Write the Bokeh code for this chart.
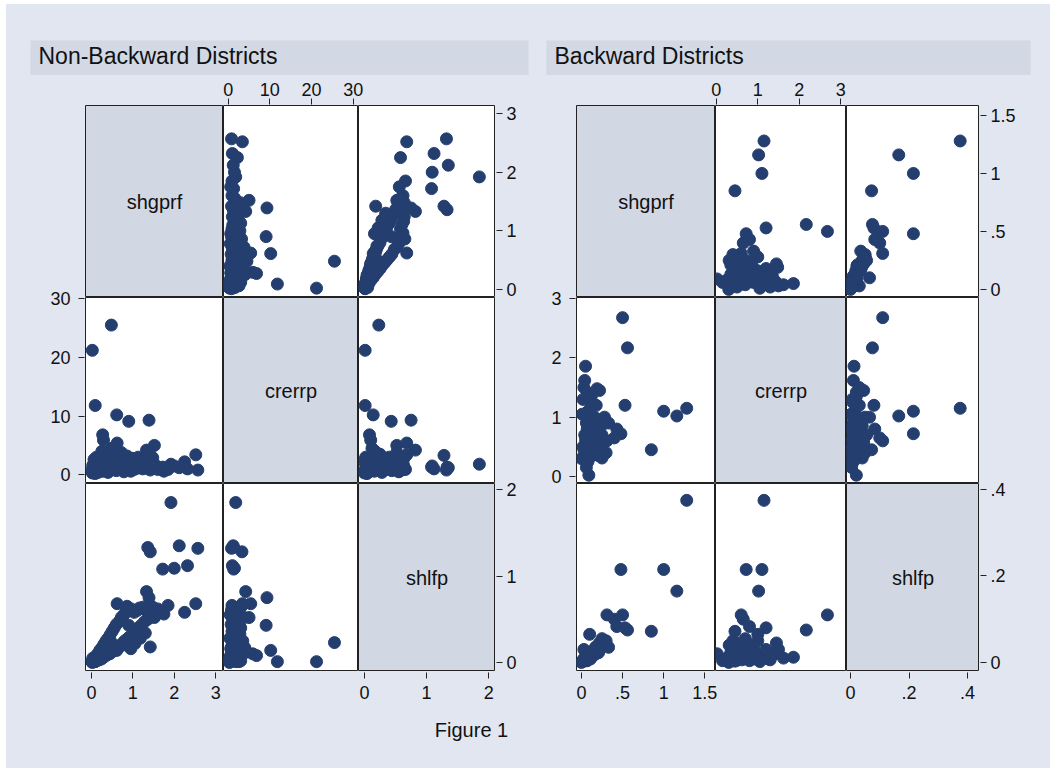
from bokeh.plotting import figure
from bokeh.layouts import row, column
from bokeh.models import (Range1d, FixedTicker, LinearAxis, Label, ColumnDataSource,
                          CustomJSTickFormatter, Spacer)
from bokeh.embed import file_html
from bokeh.resources import INLINE

# ---------------- data ----------------
variables = ["shgprf", "crerrp", "shlfp"]

# Non-Backward Districts
shgprf_nb = [0.48, 0.02, 0.09, 0.61, 0.90, 1.39, 1.52, 2.52, 2.57, 1.92, 2.25, 2.32, 2.12, 2.00,
             1.85, 1.72, 1.36, 1.42, 0.62, 0.86, 0.29, 0.27, 1.42, 1.33, 1.75,
             0.02, 0.05, 0.08, 0.10, 0.12, 0.15, 0.18, 0.20, 0.22, 0.25, 0.28, 0.30, 0.33, 0.35,
             0.38, 0.40, 0.42, 0.45, 0.48, 0.50, 0.52, 0.55, 0.58, 0.60, 0.65, 0.68, 0.70, 0.72,
             0.75, 0.78, 0.80, 0.83, 0.88, 0.90, 0.93, 0.96, 1.00, 1.03, 1.06, 1.10, 1.13, 1.16,
             1.20, 1.24, 1.28, 1.32, 1.36, 1.40, 1.45, 1.48, 1.55, 1.60,
             0.01, 0.03, 0.06, 0.09, 0.11, 0.14, 0.16, 0.19, 0.24, 0.27, 0.32, 0.36, 0.44, 0.54,
             0.64, 0.74, 1.05, 1.18, 0.95, 1.30]
crerrp_nb = [25.5, 21.2, 11.8, 10.2, 9.1, 9.3, 5.0, 3.4, 0.8, 1.8, 2.2, 1.0, 1.2, 1.5,
             0.9, 1.3, 1.3, 3.3, 5.4, 3.2, 5.9, 6.8, 0.8, 4.2, 0.6,
             0.3, 1.0, 2.0, 0.5, 3.0, 1.5, 0.8, 2.5, 1.2, 4.0, 0.6, 2.0, 1.0, 3.5,
             1.8, 0.4, 2.8, 1.3, 4.5, 0.9, 2.2, 1.6, 3.0, 0.7, 1.4, 2.6, 1.0, 3.8,
             1.8, 0.5, 2.4, 1.2, 1.7, 0.8, 2.1, 1.3, 2.8, 0.9, 1.9, 1.1, 3.0, 1.5,
             2.3, 1.0, 1.7, 2.6, 1.2, 2.0, 1.4, 2.9, 1.6, 0.9,
             0.8, 1.6, 2.6, 0.2, 1.2, 2.2, 0.4, 1.7, 0.9, 2.9, 1.4, 0.7, 2.0, 1.1,
             2.0, 1.3, 1.4, 2.2, 0.6, 1.8]
shlfp_nb = [0.23, 0.01, 0.01, 0.14, 0.43, 0.75, 0.52, 0.68, 1.32, 1.85, 0.58, 1.12, 1.35, 1.09,
            0.66, 1.08, 1.33, 1.28, 0.68, 0.65, 0.10, 0.08, 0.18, 0.82, 0.56,
            0.00, 0.04, 0.01, 0.07, 0.02, 0.10, 0.03, 0.14, 0.05, 0.17, 0.06, 0.21, 0.08, 0.25,
            0.09, 0.28, 0.10, 0.32, 0.12, 0.36, 0.13, 0.40, 0.15, 0.44, 0.17, 0.48, 0.20, 0.52,
            0.22, 0.55, 0.25, 0.58, 0.28, 0.60, 0.30, 0.62, 0.33, 0.58, 0.36, 0.60, 0.40, 0.63,
            0.43, 0.64, 0.47, 0.60, 0.50, 0.62, 0.54, 0.64, 0.58, 0.62,
            0.01, 0.05, 0.01, 0.04, 0.02, 0.05, 0.03, 0.10, 0.04, 0.09, 0.07, 0.10, 0.10, 0.14,
            0.18, 0.20, 0.22, 0.28, 0.16, 0.34]

# Backward Districts
shgprf_b = [1.28, 1.16, 1.00, 0.85, 0.50, 0.56, 0.48, 0.53, 0.05, 0.04, 0.07, 0.22, 0.40, 0.31,
            0.30, 0.19, 0.09, 0.03, 0.25, 0.33, 0.43, 0.10, 0.21,
            0.00, 0.02, 0.04, 0.06, 0.08, 0.10, 0.12, 0.14, 0.16, 0.18, 0.20, 0.03, 0.05, 0.07,
            0.09, 0.11, 0.13, 0.15, 0.17, 0.01, 0.24, 0.26, 0.28, 0.02, 0.08, 0.12, 0.25, 0.19,
            0.22, 0.06]
crerrp_b = [1.15, 1.02, 1.10, 0.45, 2.68, 2.17, 0.72, 1.20, 1.86, 1.62, 1.42, 1.45, 0.65, 0.60,
            0.40, 1.48, 0.02, 1.50, 0.31, 0.90, 0.80, 1.00, 0.35,
            0.30, 0.50, 0.70, 0.90, 1.10, 0.40, 0.60, 0.80, 1.00, 1.20, 0.50, 0.45, 0.62, 0.80,
            0.95, 1.25, 0.35, 0.55, 0.72, 1.05, 0.85, 0.58, 1.00, 1.30, 0.25, 1.35, 0.70, 0.88,
            0.48, 0.15]
shlfp_b = [0.375, 0.165, 0.215, 0.072, 0.110, 0.075, 0.215, 0.080, 0.012, 0.010, 0.020, 0.045,
           0.100, 0.110, 0.050, 0.030, 0.020, 0.030, 0.040, 0.035, 0.083, 0.065, 0.023,
           0.000, 0.005, 0.010, 0.008, 0.015, 0.020, 0.012, 0.025, 0.018, 0.030, 0.022, 0.003,
           0.006, 0.004, 0.012, 0.008, 0.016, 0.028, 0.035, 0.002, 0.040, 0.045, 0.050, 0.006,
           0.010, 0.020, 0.055, 0.038, 0.030, 0.004]

# axis ticks per variable
ticks_nb = {"shgprf": [0, 1, 2, 3], "crerrp": [0, 10, 20, 30], "shlfp": [0, 1, 2]}
ticks_b = {"shgprf": [0, 0.5, 1, 1.5], "crerrp": [0, 1, 2, 3], "shlfp": [0, 0.2, 0.4]}

# axis extents of each cell
xr_nb = {"shgprf": (-0.145, 3.19), "crerrp": (-1.13, 31.27), "shlfp": (-0.097, 2.11)}
yr_nb = {"shgprf": (-0.14, 3.14), "crerrp": (-1.49, 30.2), "shlfp": (-0.104, 2.07)}
xr_b = {"shgprf": (-0.06, 1.63), "crerrp": (-0.02, 3.14), "shlfp": (-0.0137, 0.441)}
yr_b = {"shgprf": (-0.07, 1.586), "crerrp": (-0.12, 3.02), "shlfp": (-0.021, 0.414)}

# ---------------- style ----------------
BG = "#e1e6f0"
BAR = "#d2d8e4"
DIAG = "#d1d8e4"
NAVY = "#243f6f"
FONT = "Liberation Sans"
TXT = "#111111"
LINE = "#222222"

fmt_code = "var s = String(tick); if (s.indexOf('0.') === 0) { s = s.substring(1); } return s;"

ROW_H = [192, 186, 188]
TOP_B, BOT_B = 30, 36


def ext(rng, a, b, total):
    """Extend a cell range so that it maps onto pixels a..b of a frame 'total' px long."""
    lo, hi = rng
    s = (hi - lo) / (b - a)
    return Range1d(lo - a * s, hi + (total - b) * s)


def blank(width, height, x_range, y_range, **borders):
    kw = dict(min_border=0)
    kw.update(borders)
    p = figure(width=width, height=height, x_range=x_range, y_range=y_range,
               x_axis_location=None, y_axis_location=None,
               toolbar_location=None, output_backend="svg", title=None,
               background_fill_color=BG, border_fill_color=BG, outline_line_color=None, **kw)
    p.xgrid.visible = False
    p.ygrid.visible = False
    return p


def add_axis(p, loc, ticks):
    standoff = {"above": 3, "below": 7, "left": 8, "right": 4}[loc]
    ax = LinearAxis(ticker=FixedTicker(ticks=ticks),
                    formatter=CustomJSTickFormatter(code=fmt_code),
                    major_tick_in=0, major_tick_out=6,
                    minor_tick_line_color=None,
                    axis_line_color=None, major_tick_line_color=LINE,
                    major_label_text_font=FONT, major_label_text_font_size="18px",
                    major_label_text_color=TXT, major_label_standoff=standoff)
    p.add_layout(ax, loc)


def title_bar(text, width, sp_left, sp_right):
    p = blank(width, 35 + 36, Range1d(0, 1), Range1d(0, 1),
              min_border_left=sp_left, min_border_right=sp_right, min_border_top=36)
    p.background_fill_color = BAR
    p.add_layout(Label(x=8, y=19.5, x_units="screen", y_units="screen", text=text,
                       text_align="left", text_baseline="middle",
                       text_font=FONT, text_font_size="23px", text_color=TXT))
    return p


def make_panel(title, src, xr, yr, ticks, col_w, L, R, sp_left, sp_right):
    W = sum(col_w)
    H = sum(ROW_H)
    cx = [0, col_w[0], col_w[0] + col_w[1], W]
    ry = [0, ROW_H[0], ROW_H[0] + ROW_H[1], H]
    v0, v1, v2 = variables
    panel_w = L + W + R

    tb = title_bar(title, panel_w, sp_left, sp_right)

    # top axis strip (column 2 variable)
    top = blank(panel_w, TOP_B, ext(xr[v1], cx[1], cx[2], W), Range1d(0, 1),
                min_border_left=L, min_border_right=R, min_border_top=TOP_B - 1)
    add_axis(top, "above", ticks[v1])

    # left axis strip (row 2 variable)
    left = blank(L, H, Range1d(0, 1), ext(yr[v1], H - ry[2], H - ry[1], H),
                 min_border_left=L - 1)
    add_axis(left, "left", ticks[v1])

    # right axis strips (row 1 and row 3 variables); the lower one reaches the bottom margin
    split_y = ry[1] + ROW_H[1] // 2
    hA = split_y
    hB = H - split_y + BOT_B
    rA = blank(R, hA, Range1d(0, 1), ext(yr[v0], hA - ry[1], hA, hA), min_border_right=R - 1)
    add_axis(rA, "right", ticks[v0])
    rB = blank(R, hB, Range1d(0, 1), ext(yr[v2], BOT_B, BOT_B + ROW_H[2], hB),
               min_border_right=R - 1)
    add_axis(rB, "right", ticks[v2])

    # bottom axis strips (column 1 and column 3 variables)
    split_x = cx[1] + col_w[1] // 2
    wA, wB = split_x, W - split_x
    bA = blank(L + wA, BOT_B, ext(xr[v0], 0, cx[1], wA), Range1d(0, 1),
               min_border_left=L, min_border_bottom=BOT_B - 1)
    add_axis(bA, "below", ticks[v0])
    bB = blank(wB, BOT_B, ext(xr[v2], cx[2] - split_x, wB, wB), Range1d(0, 1),
               min_border_bottom=BOT_B - 1)
    add_axis(bB, "below", ticks[v2])

    # the 3x3 cells
    rows = []
    for i, rv in enumerate(variables):
        figs = []
        for j, cv in enumerate(variables):
            p = figure(width=col_w[j], height=ROW_H[i],
                       x_range=Range1d(*xr[cv]), y_range=Range1d(*yr[rv]),
                       x_axis_location=None, y_axis_location=None,
                       toolbar_location=None, output_backend="svg", title=None,
                       min_border=0,
                       background_fill_color=DIAG if i == j else "white",
                       border_fill_color=BG, outline_line_color=LINE,
                       outline_line_width=1)
            p.xgrid.visible = False
            p.ygrid.visible = False
            if i == j:
                lo_x, hi_x = xr[cv]
                lo_y, hi_y = yr[rv]
                p.add_layout(Label(x=(lo_x + hi_x) / 2, y=(lo_y + hi_y) / 2, text=rv,
                                   text_align="center", text_baseline="middle",
                                   text_font=FONT, text_font_size="20px", text_color=TXT))
            else:
                p.scatter(x=cv, y=rv, source=src, marker="circle", size=12,
                          fill_color=NAVY, line_color=NAVY, line_width=1)
            figs.append(p)
        rows.append(row(*figs))
    cells = column(*rows)

    body = row(column(row(left, cells), row(bA, bB)), column(rA, rB))
    return column(row(tb), row(top), body)


src_nb = ColumnDataSource(dict(shgprf=shgprf_nb, crerrp=crerrp_nb, shlfp=shlfp_nb))
src_b = ColumnDataSource(dict(shgprf=shgprf_b, crerrp=crerrp_b, shlfp=shlfp_b))

pL = make_panel("Non-Backward Districts", src_nb, xr_nb, yr_nb, ticks_nb,
                [138, 135, 137], 24 + 55, 33 + 18, 24, 18)
pR = make_panel("Backward Districts", src_b, xr_b, yr_b, ticks_b,
                [139, 131, 133], 30, 51 + 20, 0, 20)

footer = blank(1044, 61, Range1d(0, 1), Range1d(0, 1))
footer.add_layout(Label(x=465, y=39, x_units="screen", y_units="screen", text="Figure 1",
                        text_align="center", text_baseline="middle",
                        text_font=FONT, text_font_size="20px", text_color=TXT))

content = column(row(pL, pR), row(footer), styles={"background-color": BG})
page = column(Spacer(height=4), row(Spacer(width=6), content))

open("out.html", "w").write(file_html(page, INLINE))
